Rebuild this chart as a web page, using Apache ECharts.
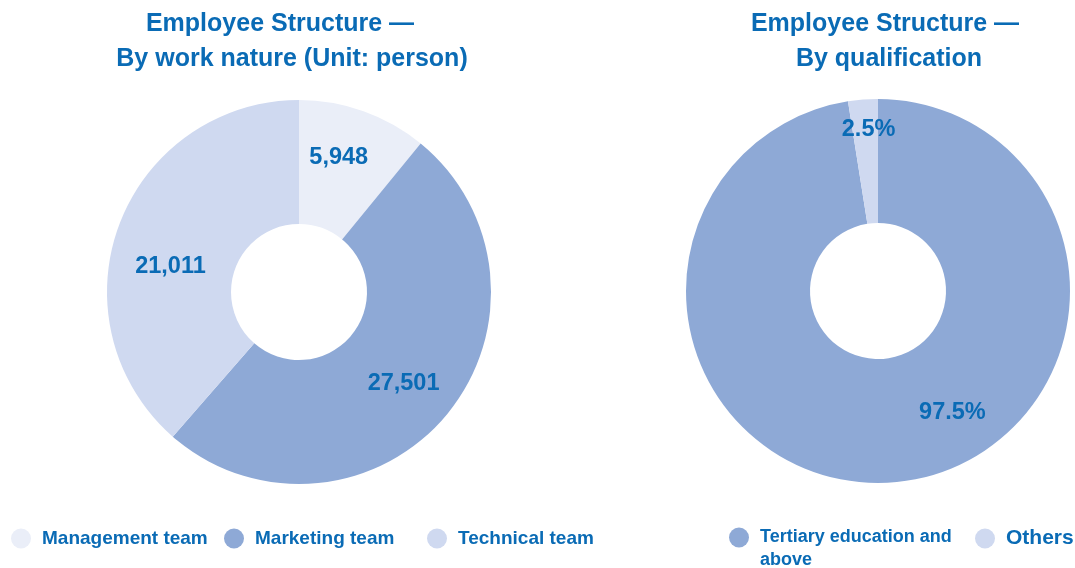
<!DOCTYPE html>
<html>
<head>
<meta charset="utf-8">
<script src="https://cdn.jsdelivr.net/npm/echarts@6/dist/echarts.min.js"></script>
<style>
  html, body { margin: 0; padding: 0; background: #ffffff; }
  #chart { width: 1075px; height: 568px; }
</style>
</head>
<body>
<div id="chart"></div>
<script>
// Employee structure by work nature (persons)
const workCategories = ['Management team', 'Marketing team', 'Technical team'];
const workValues = [5948, 27501, 21011];

// Employee structure by qualification (%)
const qualCategories = ['Tertiary education and above', 'Others'];
const qualValues = [97.5, 2.5];

const FONT = "'Liberation Sans', Arial, Helvetica, sans-serif";
const BLUE = '#0a6bb5';
const workColors = ['#eaeef8', '#8ea9d6', '#cfd9f0'];
const qualColors = ['#8ea9d6', '#cfd9f0'];

// Nudges applied to the inside labels so they sit where they read best
const workLabelShift = [[-5, -9], [3, 6], [-4, 21]];
const qualLabelShift = [[64, -11], [1, -29]];

const fmtThousands = v => v.toLocaleString('en-US');

const labelStyle = {
  show: true,
  position: 'inside',
  color: BLUE,
  fontFamily: FONT,
  fontWeight: 'bold',
  fontSize: 23.5
};

const chart = echarts.init(document.getElementById('chart'), null, { renderer: 'canvas' });

function titleLine(text, x, top) {
  return {
    text: text,
    left: x,
    top: top,
    textAlign: 'center',
    padding: 0,
    textStyle: { color: BLUE, fontFamily: FONT, fontWeight: 'bold', fontSize: 25, lineHeight: 30 }
  };
}

function legendItem(name, left, top, fontSize, label) {
  return {
    data: [name],
    left: left,
    top: top,
    orient: 'horizontal',
    icon: 'circle',
    itemWidth: 20,
    itemHeight: 20,
    padding: 0,
    selectedMode: false,
    formatter: label ? () => label : undefined,
    textStyle: {
      color: BLUE, fontFamily: FONT, fontWeight: 'bold', fontSize: fontSize,
      lineHeight: 23,
      padding: [0, 0, 0, 6]
    }
  };
}

chart.setOption({
  animation: false,
  backgroundColor: '#ffffff',
  title: [
    titleLine('Employee Structure \u2014', 280, 9),
    titleLine('By work nature (Unit: person)', 292, 44),
    titleLine('Employee Structure \u2014', 885, 9),
    titleLine('By qualification', 889, 44)
  ],
  legend: [
    legendItem(workCategories[0], 11, 527, 19),
    legendItem(workCategories[1], 224, 527, 19),
    legendItem(workCategories[2], 427, 527, 19),
    // blank first line keeps the icon level with the first visible line
    legendItem(qualCategories[0], 729, 503, 18, '\nTertiary education and\nabove'),
    legendItem(qualCategories[1], 975, 527, 21)
  ],
  series: [
    {
      type: 'pie',
      center: [299, 292],
      radius: [68, 192],
      startAngle: 90,
      clockwise: true,
      silent: true,
      labelLine: { show: false },
      label: Object.assign({}, labelStyle, { formatter: p => fmtThousands(p.value) }),
      data: workCategories.map((name, i) => ({
        name: name,
        value: workValues[i],
        itemStyle: { color: workColors[i] },
        label: { offset: workLabelShift[i] }
      }))
    },
    {
      type: 'pie',
      center: [878, 291],
      radius: [68, 192],
      startAngle: 90,
      clockwise: true,
      silent: true,
      labelLine: { show: false },
      label: Object.assign({}, labelStyle, { formatter: p => p.value.toFixed(1) + '%' }),
      data: qualCategories.map((name, i) => ({
        name: name,
        value: qualValues[i],
        itemStyle: { color: qualColors[i] },
        label: { offset: qualLabelShift[i] }
      }))
    }
  ]
});
</script>
</body>
</html>
